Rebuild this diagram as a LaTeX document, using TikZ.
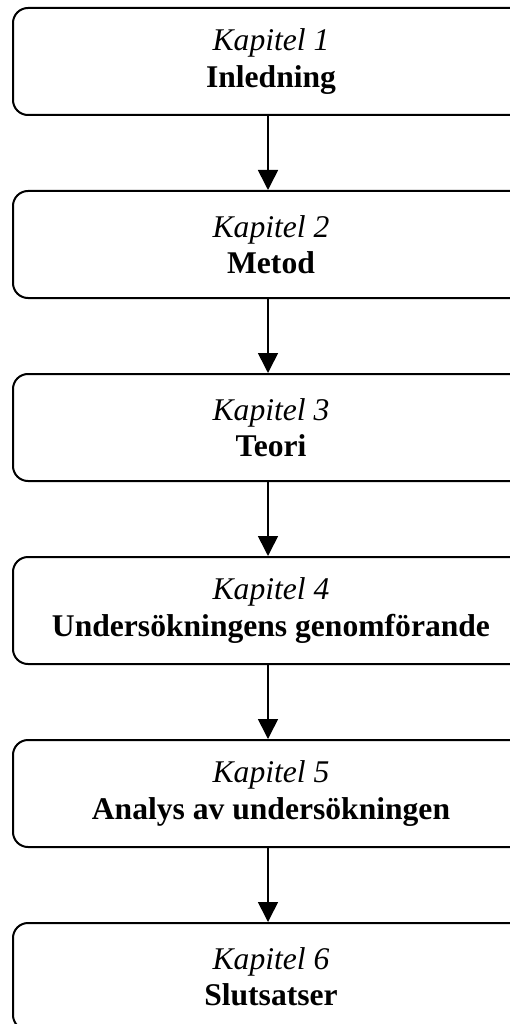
\documentclass[tikz,border=0pt]{standalone}
\usepackage{fontspec}
\setmainfont{Liberation Serif}
\usetikzlibrary{arrows.meta}

\begin{document}
\begin{tikzpicture}
          [x=1pt,y=1pt,
           chapbox/.style={draw,line width=2pt,rounded corners=15pt,shape=rectangle,
             minimum width=516pt,minimum height=107pt,inner sep=0pt,align=center,
             font=\fontsize{31.6}{36.5}\selectfont},
           flow/.style={line width=1.6pt,-{Triangle[width=20pt,length=20pt]}}]

          \useasboundingbox (0,0) rectangle (510,-1024);

          \node[chapbox] (k1) at (271, -61.5) {\textit{Kapitel 1}\\\textbf{Inledning}};
          \node[chapbox] (k2) at (271, -244.5) {\textit{Kapitel 2}\\\textbf{Metod}};
          \node[chapbox] (k3) at (271, -427.5) {\textit{Kapitel 3}\\\textbf{Teori}};
          \node[chapbox] (k4) at (271, -610.5) {\textit{Kapitel 4}\\\textbf{Undersökningens genomförande}};
          \node[chapbox] (k5) at (271, -793.5) {\textit{Kapitel 5}\\\textbf{Analys av undersökningen}};
          \node[chapbox] (k6) at (271, -976.5) {\textit{Kapitel 6}\\\textbf{Slutsatser}};

          \draw[flow] (k1.south -| 268,0) -- (k2.north -| 268,0);
          \draw[flow] (k2.south -| 268,0) -- (k3.north -| 268,0);
          \draw[flow] (k3.south -| 268,0) -- (k4.north -| 268,0);
          \draw[flow] (k4.south -| 268,0) -- (k5.north -| 268,0);
          \draw[flow] (k5.south -| 268,0) -- (k6.north -| 268,0);
        \end{tikzpicture}
\end{document}
